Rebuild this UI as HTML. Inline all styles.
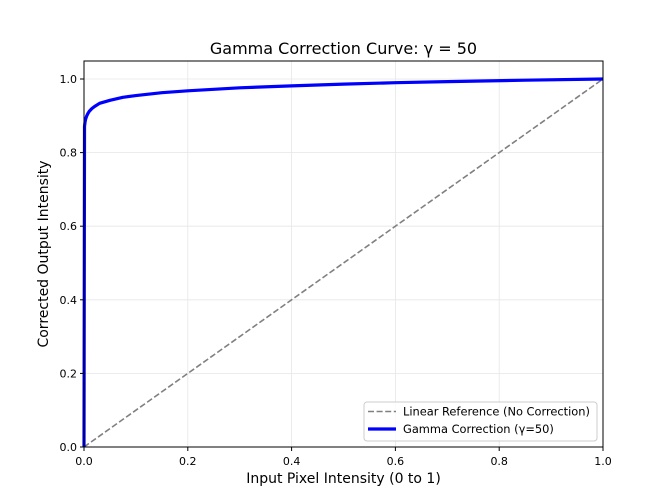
<!DOCTYPE html>
<html><head><meta charset="utf-8"><style>body{margin:0;background:#fff}svg{display:block}text{font-family:"DejaVu Sans","Liberation Sans",sans-serif;fill:#000}</style></head><body>
<svg width="670" height="502" viewBox="0 0 670 502">
<rect width="670" height="502" fill="#fff"/>
<g stroke="#e6e6e6" stroke-width="0.8">
<line x1="84" y1="61" x2="84" y2="447"/><line x1="187.8" y1="61" x2="187.8" y2="447"/><line x1="291.6" y1="61" x2="291.6" y2="447"/><line x1="395.4" y1="61" x2="395.4" y2="447"/><line x1="499.2" y1="61" x2="499.2" y2="447"/><line x1="603" y1="61" x2="603" y2="447"/>
<line x1="84" y1="447" x2="603" y2="447"/><line x1="84" y1="373.4" x2="603" y2="373.4"/><line x1="84" y1="299.8" x2="603" y2="299.8"/><line x1="84" y1="226.2" x2="603" y2="226.2"/><line x1="84" y1="152.6" x2="603" y2="152.6"/><line x1="84" y1="79" x2="603" y2="79"/>
</g>
<line x1="84" y1="447" x2="603" y2="79" stroke="#808080" stroke-width="1.6" stroke-dasharray="6,2.6"/>
<polyline fill="none" stroke="#0000ff" stroke-width="3.2" stroke-linejoin="round" points="84,447 84.52,126.5 85.04,122.1 85.56,119.4 86.6,116.2 87.9,113.5 89.19,111.4 91.8,108.6 94.38,106.6 99.6,103.3 109.95,100.3 122.9,97.3 135.9,95.6 161.85,92.7 187.8,90.8 239.7,87.8 291.6,85.9 343.5,84.1 395.4,82.7 447.3,81.6 525.2,80.2 603,79"/>
<rect x="84" y="61" width="519" height="386" fill="none" stroke="#000" stroke-width="1"/>
<g stroke="#000" stroke-width="1">
<line x1="84" y1="447" x2="84" y2="451"/><line x1="187.8" y1="447" x2="187.8" y2="451"/><line x1="291.6" y1="447" x2="291.6" y2="451"/><line x1="395.4" y1="447" x2="395.4" y2="451"/><line x1="499.2" y1="447" x2="499.2" y2="451"/><line x1="603" y1="447" x2="603" y2="451"/>
<line x1="80" y1="447" x2="84" y2="447"/><line x1="80" y1="373.4" x2="84" y2="373.4"/><line x1="80" y1="299.8" x2="84" y2="299.8"/><line x1="80" y1="226.2" x2="84" y2="226.2"/><line x1="80" y1="152.6" x2="84" y2="152.6"/><line x1="80" y1="79" x2="84" y2="79"/>
</g>
<g font-size="11" text-anchor="middle">
<text x="84" y="465">0.0</text><text x="187.8" y="465">0.2</text><text x="291.6" y="465">0.4</text><text x="395.4" y="465">0.6</text><text x="499.2" y="465">0.8</text><text x="603" y="465">1.0</text>
</g>
<g font-size="11" text-anchor="end">
<text x="77" y="451">0.0</text><text x="77" y="377.4">0.2</text><text x="77" y="303.8">0.4</text><text x="77" y="230.2">0.6</text><text x="77" y="156.6">0.8</text><text x="77" y="83">1.0</text>
</g>
<text x="343.5" y="483" font-size="14" text-anchor="middle">Input Pixel Intensity (0 to 1)</text>
<text transform="translate(48,254) rotate(-90)" font-size="14" text-anchor="middle">Corrected Output Intensity</text>
<text x="343.5" y="54" font-size="16" text-anchor="middle">Gamma Correction Curve: γ = 50</text>
<rect x="364" y="402" width="233" height="39" rx="3" fill="#fff" fill-opacity="0.8" stroke="#ccc" stroke-width="1"/>
<line x1="368" y1="411.5" x2="396" y2="411.5" stroke="#808080" stroke-width="1.6" stroke-dasharray="6,2.6"/>
<line x1="368" y1="429" x2="396" y2="429" stroke="#0000ff" stroke-width="3.2"/>
<text x="403" y="415.5" font-size="11.4">Linear Reference (No Correction)</text>
<text x="403" y="433" font-size="11.4">Gamma Correction (γ=50)</text>
</svg>
</body></html>
